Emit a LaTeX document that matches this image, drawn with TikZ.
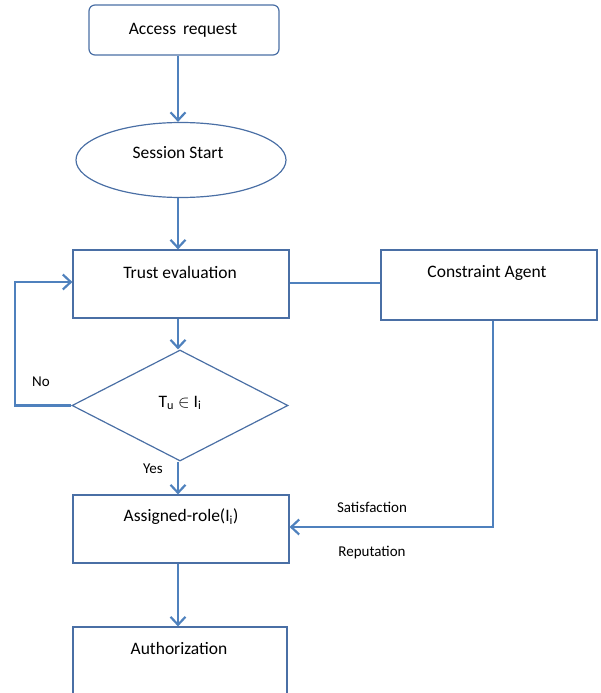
\documentclass[tikz,border=0pt]{standalone}
\usepackage{fontspec}
\setmainfont{Carlito}
\usetikzlibrary{arrows.meta,shapes.geometric}
\definecolor{boxline}{HTML}{4A6FA5}
\definecolor{arrline}{HTML}{4F81BD}
\tikzset{
  boxst/.style={draw=boxline, line width=1.2pt, rectangle, inner sep=0pt},
  lbl/.style={font=\fontsize{17.5}{20}\selectfont, inner sep=0pt, text=black},
  small/.style={font=\fontsize{15}{18}\selectfont, inner sep=0pt, text=black},
  flow/.style={draw=arrline, line width=2.5pt, -{Straight Barb[length=8pt,width=15pt,line width=2.2pt]}},
  plain/.style={draw=arrline, line width=1.2pt},
}
\begin{document}
\begin{tikzpicture}[x=1pt,y=-1pt]
\useasboundingbox (0,0) rectangle (601,693);
\clip (0,0) rectangle (601,693);
% boxes
\node[boxst, rounded corners=6pt, minimum width=190pt, minimum height=50pt] (acc) at (184,30) {};
\node[lbl] (acct) at (183,30) {Access\, request};
\node[boxst, ellipse, minimum width=210pt, minimum height=75pt] (ses) at (181,160) {};
\node[lbl] (sest) at (178,153) {Session Start};
\node[boxst, minimum width=216pt, minimum height=68pt] (trust) at (181,284) {};
\node[lbl] (trustt) at (180,272) {Trust evaluation};
\node[boxst, minimum width=216pt, minimum height=70pt] (ca) at (489,285) {};
\node[lbl] (cat) at (487,273) {Constraint Agent};
\node[boxst, diamond, aspect=1.95, minimum width=216pt, minimum height=111pt] (dec) at (180,405.5) {};
\node[lbl] (dect) at (180,403) {T\textsubscript{u} $\in$ I\textsubscript{i}};
\node[boxst, minimum width=216pt, minimum height=68pt] (ass) at (181,529) {};
\node[lbl] (asst) at (181,517) {Assigned-role(I\textsubscript{i})};
\node[boxst, minimum width=214pt, minimum height=100pt] (auth) at (180,677) {};
\node[lbl] (autht) at (179,648) {Authorization};
% labels
\node[small] (no) at (41,382) {No};
\node[small] (yes) at (153,469) {Yes};
\node[small] (sat) at (372,507) {Satisfaction};
\node[small] (rep) at (372,553) {Reputation};
% coordinates
\coordinate (l1) at (15,405.5);
\coordinate (l2) at (15,282);
\coordinate (r1) at (493,527);
% connectors
\draw[flow] (acc.south -| 178,0) -- (ses.north -| 178,0);
\draw[flow] (ses.south -| 178,0) -- (trust.north -| 178,0);
\draw[flow] (trust.south -| 178,0) -- (dec.north -| 178,0);
\draw[flow] (dec.south -| 178,0) -- (ass.north -| 178,0);
\draw[flow] (ass.south -| 178,0) -- (auth.north -| 178,0);
\draw[flow] (dec.west) -- (l1) -- (l2) -- (l2 -| trust.west);
\draw[plain] (trust.east |- 0,283) -- (ca.west |- 0,283);
\draw[flow] (ca.south -| r1) -- (r1) -- (r1 -| ass.east);
\end{tikzpicture}
\end{document}
